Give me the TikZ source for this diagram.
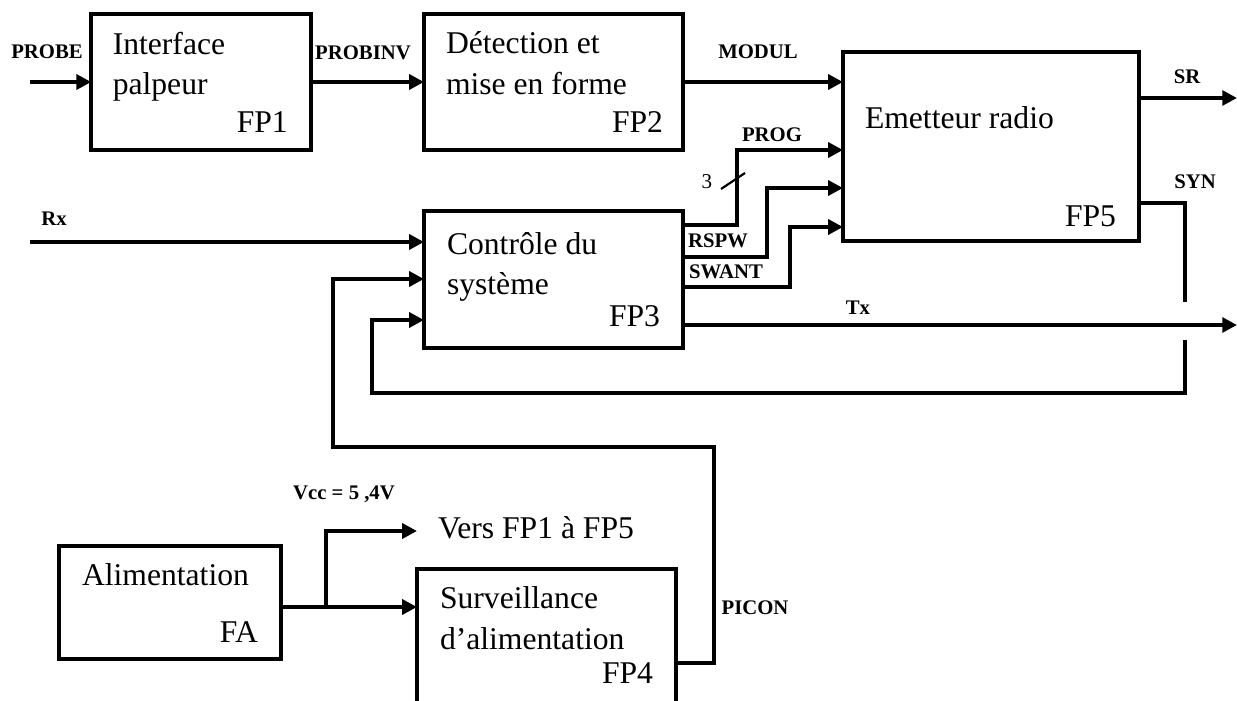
\documentclass[tikz,border=0pt]{standalone}
\usepackage{fontspec}
\setmainfont{Liberation Serif}
\usepackage{tikz}
\usetikzlibrary{ arrows.meta, positioning }
\newcommand{\blocktext}{\fontsize{9}{11.4}\selectfont}
\newcommand{\sigtext}{\fontsize{5.9}{7}\selectfont\bfseries}
\tikzset{
>={Triangle[length=4.2pt,width=4.2pt]}, % filled arrow heads
every node/.style={inner sep=0pt, outer sep=0pt},
block/.style={draw, line width=1.2pt, minimum height=13.7mm}, % the function boxes
title/.style={align=left, font=\blocktext},
fpname/.style={font=\blocktext},
signal/.style={font=\sigtext}, % signal names
wire/.style={line width=1.2pt},
}

\begin{document}
\begin{tikzpicture}[x=0.1mm, y=-0.1mm]
  \clip (0,0) rectangle (1237,701);
  % blocks
  \node[block, minimum width=21.95mm, minimum height=13.6mm] (fp1) at (201,82) {};
  \node[block, minimum width=25.9mm, minimum height=13.6mm] (fp2) at (553.5,82) {};
  \node[block, minimum width=29.6mm, minimum height=18.9mm] (fp5) at (991,146.5) {};
  \node[block, minimum width=25.9mm] (fp3) at (553.5,279.5) {};
  \node[block, minimum width=22.2mm, minimum height=11.3mm] (fa) at (170,602.5) {};
  \node[block, minimum width=25.9mm] (fp4) at (546.5,637.5) {};

  % texts of the blocks
  \node[title, below right=1.8mm and 2.15mm of fp1.north west] (fp1title) {Interface\\palpeur};
  \node[fpname, above left=1.7mm and 2.3mm of fp1.south east] (fp1name) {FP1};
  \node[title, below right=1.8mm and 2.2mm of fp2.north west] (fp2title) {Détection et\\mise en forme};
  \node[fpname, above left=1.7mm and 2mm of fp2.south east] (fp2name) {FP2};
  \node[title, below right=5.5mm and 2.2mm of fp5.north west] (fp5title) {Emetteur radio};
  \node[fpname, above left=1.4mm and 2.3mm of fp5.south east] (fp5name) {FP5};
  \node[title, below right=2.1mm and 2.3mm of fp3.north west] (fp3title) {Contrôle du\\système};
  \node[fpname, above left=2.1mm and 2.3mm of fp3.south east] (fp3name) {FP3};
  \node[title, below right=1.8mm and 2.3mm of fa.north west] (fatitle) {Alimentation};
  \node[fpname, above left=1.7mm and 2.3mm of fa.south east] (faname) {FA};
  \node[title, below right=1.8mm and 2.3mm of fp4.north west] (fp4title) {Surveillance\\d’alimentation};
  \node[fpname, above left=2.3mm and 2.3mm of fp4.south east] (fp4name) {FP4};

  % top chain
  \coordinate (probe) at (30,82);
  \draw[wire, ->] (probe) -- (fp1);
  \draw[wire, ->] (fp1) -- (fp2);
  \draw[wire, ->] (fp2) -- (fp2.east -| fp5.west);
  \node[signal] (probel) at (47,52) {PROBE};
  \node[signal] (probinvl) at (363,53) {PROBINV};
  \node[signal] (modull) at (758,52) {MODUL};

  % FP3 -> FP5
  \draw[wire, ->] (fp3.east |- 0,225) -| (737,150) -- (fp5.west |- 0,150);
  \draw[wire, ->] (fp3.east |- 0,257) -| (767,188) -- (fp5.west |- 0,188);
  \draw[wire, ->] (fp3.east |- 0,287) -| (790,227) -- (fp5.west |- 0,227);
  \draw[line width=0.6pt] (721,189) -- (745,173);
  \node[font=\fontsize{6}{7}\selectfont] (three) at (707,182) {3};
  \node[signal] (progl) at (772,135) {PROG};
  \node[signal] (rspwl) at (718,241) {RSPW};
  \node[signal] (swantl) at (726,272) {SWANT};

  % outputs of FP5
  \coordinate (sr) at (1237,98);
  \draw[wire, ->] (fp5.east |- sr) -- (sr);
  \node[signal] (srl) at (1187,77) {SR};
  \draw[wire] (fp5.east |- 0,203) -| (1185,302);
  \draw[wire, ->] (1185,340) |- (372,393) |- (fp3.west |- 0,320);
  \node[signal] (synl) at (1195,182) {SYN};

  % Rx and Tx
  \coordinate (rx) at (30,242);
  \draw[wire, ->] (rx) -- (fp3.west |- rx);
  \node[signal] (rxl) at (54,219) {Rx};
  \coordinate (tx) at (1237,325);
  \draw[wire, ->] (fp3.east |- tx) -- (tx);
  \node[signal] (txl) at (858,308) {Tx};

  % power supply
  \draw[wire, ->] (fp4.east |- 0,663) -| (714,447) -| (333,279) -- (fp3.west |- 0,279);
  \node[signal] (piconl) at (755,608) {PICON};
  \coordinate (branch) at (326,607);
  \coordinate (vers) at (417,531);
  \draw[wire, ->] (fa.east |- branch) -- (fp4.west |- branch);
  \draw[wire, ->] (branch) |- (vers);
  \node[title, anchor=base west] (versl) at (438,538) {Vers FP1 à FP5};
  \node[signal] (vccl) at (344,494) {Vcc = 5 ,4V};
\end{tikzpicture}
\end{document}
